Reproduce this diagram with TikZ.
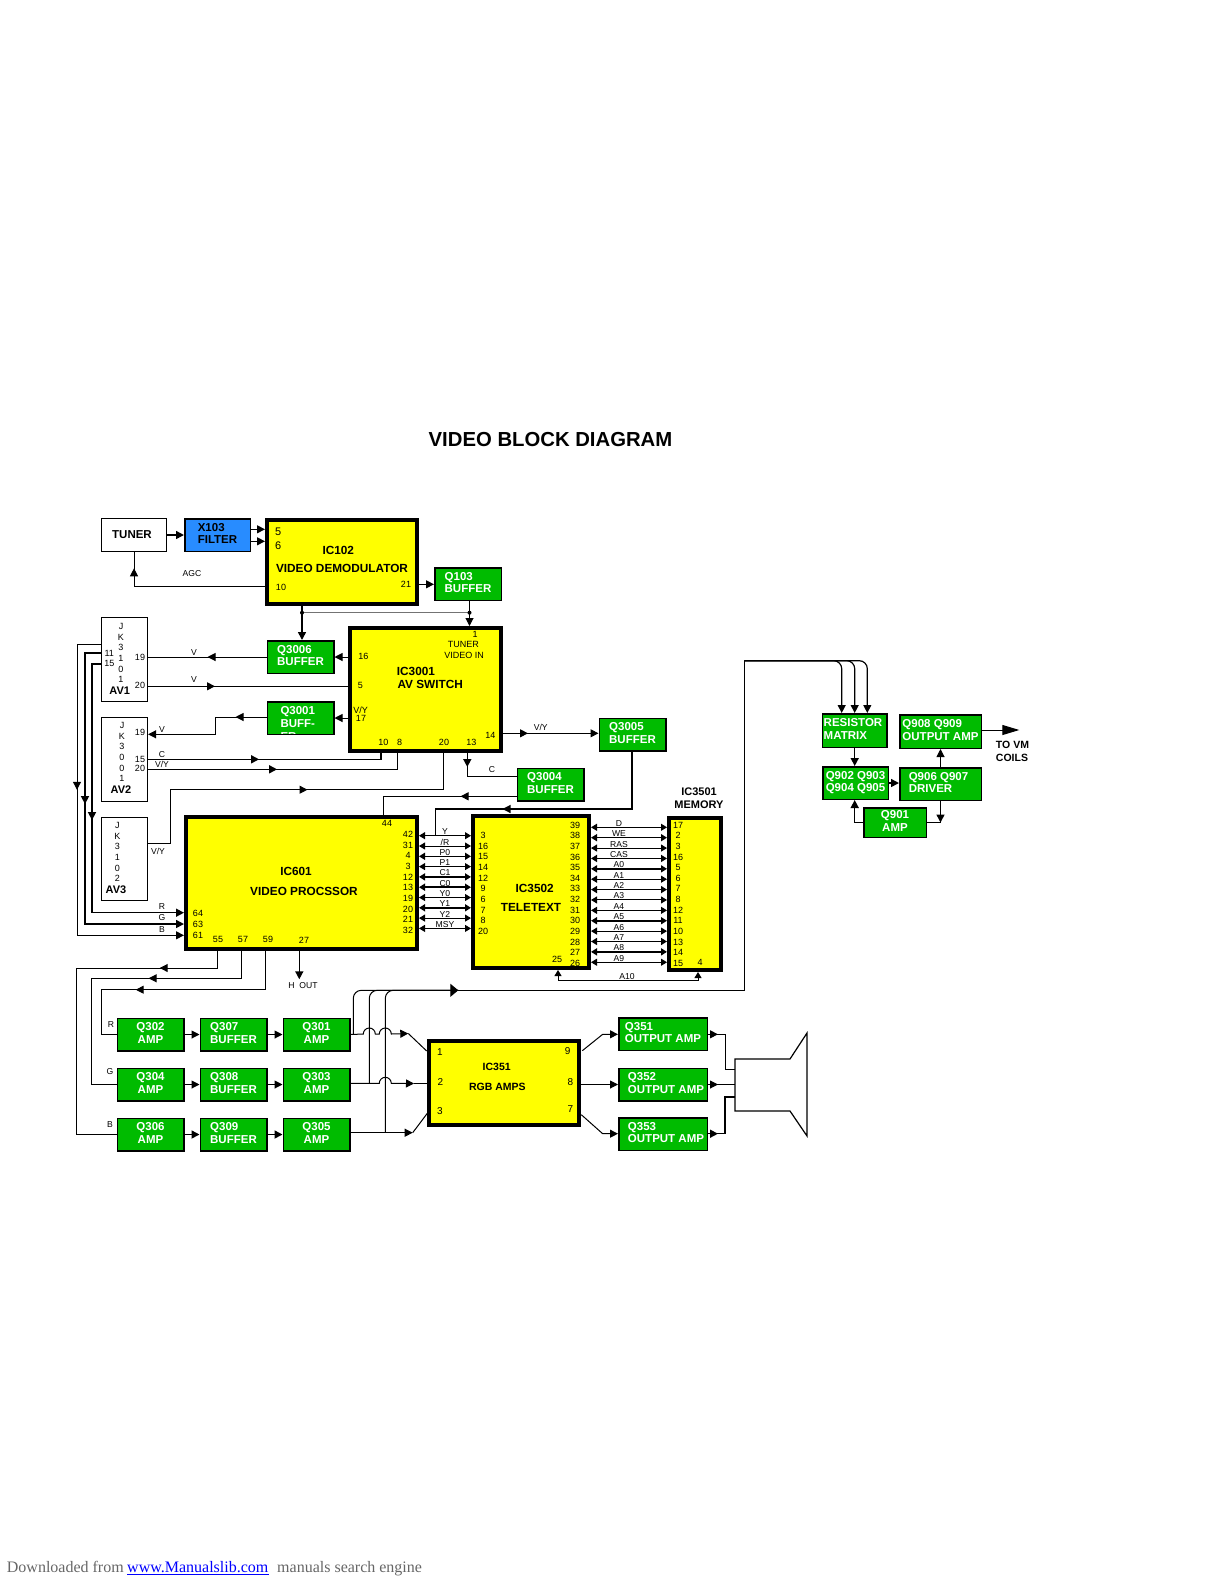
\documentclass[tikz,border=0pt]{standalone}
\usepackage{fontspec}
\setmainfont{Liberation Sans}
\newfontfamily\footfont{Liberation Serif}
\usetikzlibrary{arrows.meta,decorations.markings}
\definecolor{qgreen}{RGB}{0,187,0}
\definecolor{xblue}{RGB}{40,140,255}
\definecolor{icyellow}{RGB}{255,255,0}
\newcommand{\pinfont}{\fontsize{9}{10.6}\selectfont}
\newcommand{\sigfont}{\fontsize{8.6}{10}\selectfont}
\newcommand{\qfont}{\fontsize{11.5}{12.9}\selectfont\bfseries}
\tikzset{
    sig/.style={line width=1pt},
    bus/.style={line width=1.5pt},
    tip/.style={-{Triangle[length=8pt,width=8pt]}},
    dbl/.style={{Triangle[length=6pt,width=7pt]}-{Triangle[length=6pt,width=7pt]}},
    midtip/.style={postaction={decorate,decoration={markings,mark=at position #1 with {\arrow{Triangle[length=8pt,width=8pt]}}}}},
    pin/.style={inner sep=0pt,font=\pinfont},
    sname/.style={inner sep=0pt,font=\sigfont},
    icname/.style={inner sep=0pt,font=\fontsize{11.8}{13}\selectfont\bfseries},
    jk/.style={inner sep=0pt,align=center,font=\fontsize{9}{10.6}\selectfont},
    avname/.style={inner sep=0pt,font=\fontsize{11}{13}\selectfont\bfseries},
    size/.style 2 args={minimum width=#1,minimum height=#2},
    qbox/.style={draw,line width=1.5pt,fill=qgreen,text=white,inner sep=0pt,text depth=3pt,align=left,font=\qfont,size={66.5}{32.5}},
    icbox/.style={draw,line width=4pt,fill=icyellow,inner sep=0pt},
    jkbox/.style={draw,line width=1.2pt,fill=white,inner sep=0pt,size={46}{84}},
}
\begin{document}
\begin{tikzpicture}[x=1pt,y=-1pt]
    \useasboundingbox (0,0) rectangle (1225,1585);
    \node[font=\fontsize{20.3}{24}\selectfont\bfseries,inner sep=0pt] (title) at (550.5,439.5) {VIDEO BLOCK DIAGRAM};

    % top row
    \node[draw,line width=1.2pt,inner sep=0pt,font=\qfont,size={65}{33}] (tuner) at (134,535) {\kern-4pt\raisebox{-1pt}{TUNER}};
    \node[draw,line width=1.5pt,fill=xblue,inner sep=0pt,text depth=3pt,align=left,font=\qfont,size={65.5}{32.5}] (x103) at (217.5,535) {X103\\FILTER};
    \node[icbox,size={150}{84}] (ic102) at (342,562) {};
    \node[qbox] (q103) at (468,584) {Q103\\BUFFER};
    \node[pin,font=\fontsize{11}{13}\selectfont] (dm5) at (278.3,531.3) {5};
    \node[pin,font=\fontsize{11}{13}\selectfont] (dm6) at (278.3,545.7) {6};
    \node[icname] (dmname) at (338.3,550) {IC102};
    \node[icname] (dmtext) at (342,568) {VIDEO DEMODULATOR};
    \node[pin] (dm10) at (281,587) {10};
    \node[pin] (dm21) at (406,584.7) {21};

    % av switch row
    \node[jkbox] (av1) at (124.5,659.5) {};
    \node[jkbox] (av2) at (124.5,759.5) {};
    \node[jkbox,size={46}{83}] (av3) at (124.5,859) {};
    \node[jk] (jk1) at (121,653) {J\\K\\3\\1\\0\\1};
    \node[jk] (jk2) at (122,752) {J\\K\\3\\0\\0\\1};
    \node[jk] (jk3) at (117.3,852) {J\\K\\3\\1\\0\\2};
    \node[avname] (av1name) at (119.7,690.7) {AV1};
    \node[avname] (av2name) at (121,789.7) {AV2};
    \node[avname] (av3name) at (116,890) {AV3};
    \node[pin] (av1p11) at (109.3,653.3) {11};
    \node[pin] (av1p15) at (109.3,663.7) {15};
    \node[pin] (av1p19) at (140,657.3) {19};
    \node[pin] (av1p20) at (140,685) {20};
    \node[pin] (av2p19) at (140,732) {19};
    \node[pin] (av2p15) at (140,759.3) {15};
    \node[pin] (av2p20) at (140,768.7) {20};

    \node[qbox] (q3006) at (300.5,657) {Q3006\\BUFFER};
    \node[qbox,path picture={\node[inner sep=0pt,size={0}{0},text depth=0pt,text=white,align=left,font=\qfont,anchor=north west] (q3001text) at ([xshift=12.5pt,yshift=-3.8pt]path picture bounding box.north west) {Q3001\\BUFF-\\ER};}] (q3001) at (300.5,718) {};
    \node[icbox,size={151}{123}] (ic3001) at (425.5,689.5) {};
    \node[pin] (sw1) at (475,634.7) {1};
    \node[pin] (swtuner) at (463.3,644.3) {TUNER};
    \node[pin] (swvideo) at (464,655) {VIDEO IN};
    \node[pin] (sw16) at (363.3,656.3) {16};
    \node[pin] (sw5) at (360.3,685.7) {5};
    \node[pin] (swvy) at (360.7,710) {V/Y};
    \node[pin] (sw17) at (361,718) {17};
    \node[icname,anchor=west] (swname) at (396.7,671.3) {IC3001};
    \node[icname,anchor=west] (swtext) at (397.3,684.3) {AV SWITCH};
    \node[pin] (sw10) at (383.3,742.3) {10};
    \node[pin] (sw8) at (399.7,742.3) {8};
    \node[pin] (sw20) at (444,742.3) {20};
    \node[pin] (sw13) at (471.3,742.3) {13};
    \node[pin] (sw14) at (490.3,735) {14};
    \node[qbox] (q3005) at (632.5,734.5) {Q3005\\BUFFER};
    \node[qbox] (q3004) at (550.5,784.5) {Q3004\\BUFFER};

    % processor, teletext, memory
    \node[icbox,size={231}{132}] (ic601) at (301.5,883) {};
    \node[icbox,size={116}{152}] (ic3502) at (531,892) {};
    \node[icbox,size={52}{152}] (ic3501) at (695,894) {};
    \node[icname] (vpname) at (296,871) {IC601};
    \node[icname] (vptext) at (304,891) {VIDEO PROCSSOR};
    \node[icname] (ttname) at (534.7,888) {IC3502};
    \node[icname] (tttext) at (531,907) {TELETEXT};
    \node[icname,align=center,font=\fontsize{11}{13}\selectfont\bfseries] (memname) at (699,798) {IC3501\\MEMORY};
    \foreach \p [count=\i from 0] in {42,31,4,3,12,13,19,20,21,32}
    \node[pin] (vp\p) at (408,{834.3+10.67*\i}) {\p};
    \foreach \p [count=\i from 0] in {3,16,15,14,12,9,6,7,8,20}
    \node[pin] (ttl\i) at (483,{835.7+10.6*\i}) {\p};
    \foreach \p [count=\i from 0] in {39,38,37,36,35,34,33,32,31,30,29,28,27,26}
    \node[pin] (ttr\p) at (575,{825+10.64*\i}) {\p};
    \foreach \p [count=\i from 0] in {17,2,3,16,5,6,7,8,12,11,10,13,14,15}
    \node[pin] (mem\i) at (678,{825+10.64*\i}) {\p};
    \node[pin] (mem4) at (700,962) {4};
    \node[pin] (tt25) at (557,959) {25};
    \node[pin] (vp44) at (387,823) {44};
    \node[pin] (vp64) at (198,913.3) {64};
    \node[pin] (vp63) at (198,924.7) {63};
    \node[pin] (vp61) at (198,935.7) {61};
    \node[pin] (vp55) at (218,939) {55};
    \node[pin] (vp57) at (243,939) {57};
    \node[pin] (vp59) at (268,939) {59};
    \node[pin] (vp27) at (304,940.7) {27};

    % wires between the three chips
    \foreach \l/\w [count=\i from 0] in {Y/1,{/R}/1,P0/1.6,P1/1,C1/1.6,C0/1.6,Y0/1,Y1/1.6,Y2/1,MSY/1}{
        \coordinate (vw\i) at (445,{835.7+10.3*\i});
        \draw[line width=\w pt,dbl] (vw\i -| ic601.east) -- (vw\i -| ic3502.west);
        \node[sname,anchor=base] (vl\i) at (445,{834.7+10.3*\i}) {\l};
    }
    \foreach \l/\w [count=\i from 0] in {D/1,WE/1.6,RAS/1,CAS/1.6,A0/1.6,A1/1,A2/1.6,A3/1,A4/1,A5/1.6,A6/1,A7/1.6,A8/1.6,A9/1}{
        \coordinate (mw\i) at (619,{827.3+10.38*\i});
        \draw[line width=\w pt,dbl] (mw\i -| ic3502.east) -- (mw\i -| ic3501.west);
        \node[sname,anchor=base] (ml\i) at (619,{826.3+10.38*\i}) {\l};
    }
    \coordinate (a10l) at (558,980.7);
    \coordinate (a10r) at (698,980.7);
    \draw[sig,{Triangle[length=6pt,width=7pt]}-{Triangle[length=6pt,width=7pt]}] (a10l |- ic3502.south) -- (a10l) -- (a10r) -- (a10r |- ic3501.south);
    \node[sname] (a10) at (627,976.5) {A10};

    % top connectors
    \draw[bus,tip] (tuner.east) -- (x103.west);
    \coordinate (in5) at (258,529.3);
    \coordinate (in6) at (258,541.3);
    \draw[sig,tip] (in5 -| x103.east) -- (in5 -| ic102.west);
    \draw[sig,tip] (in6 -| x103.east) -- (in6 -| ic102.west);
    \coordinate (agc) at (134,586.3);
    \draw[sig,midtip=149pt] (agc -| ic102.west) -- (agc) -- (tuner.south);
    \node[sname] (agcname) at (192,574) {AGC};
    \coordinate (out21) at (426,584.3);
    \draw[sig,tip] (out21 -| ic102.east) -- (out21 -| q103.west);
    \coordinate (busl) at (302,612.7);
    \coordinate (busr) at (469.5,612.7);
    \draw[line width=1.4pt,black!55] (busl) -- (busr);
    \draw[bus,tip] (busl |- ic102.south) -- (busl |- q3006.north);
    \draw[sig,tip] (busr |- q103.south) -- (busr |- ic3001.north);
    \fill (busl) circle[radius=2];
    \fill (busr) circle[radius=2];

    % av jacks and switch
    \draw[sig,tip] (ic3001.west |- q3006.east) -- (q3006.east);
    \draw[sig,midtip=59pt] (q3006.west) -- (q3006.west -| av1.east);
    \node[sname] (v19) at (194,652.7) {V};
    \coordinate (av120) at (148,686.3);
    \draw[sig,midtip=67pt] (av120) -- (av120 -| ic3001.west);
    \node[sname] (v20) at (194,680) {V};
    \draw[sig,tip] (ic3001.west |- q3001.east) -- (q3001.east);
    \coordinate (v2a) at (215.7,717);
    \coordinate (v2b) at (215.7,734.3);
    \draw[sig,tip,midtip=31pt] (v2a -| q3001.west) -- (v2a) -- (v2b) -- (v2b -| av2.east);
    \node[sname] (v219) at (162,729.7) {V};
    \coordinate (c2a) at (381,759.3);
    \draw[bus,midtip=111pt] (c2a -| av2.east) -- (c2a) -- (c2a |- ic3001.south);
    \node[sname] (c15) at (162,754.3) {C};
    \coordinate (y2a) at (397.3,769.3);
    \draw[bus,midtip=129pt] (y2a -| av2.east) -- (y2a) -- (y2a |- ic3001.south);
    \node[sname] (vy20) at (162,764) {V/Y};
    \coordinate (y3a) at (170.3,843.3);
    \coordinate (y3b) at (170.3,789.7);
    \coordinate (y3c) at (443.3,789.7);
    \draw[sig,midtip=213pt] (y3a -| av3.east) -- (y3a) -- (y3b) -- (y3c) -- (y3c |- ic3001.south);
    \node[sname] (vy3) at (158,851) {V/Y};
    \coordinate (c13) at (467.3,776.7);
    \draw[bus,midtip=14pt] (c13 |- ic3001.south) -- (c13) -- (c13 -| q3004.west);
    \node[sname] (c13name) at (492,770) {C};
    \coordinate (y44) at (383.7,796.3);
    \draw[sig,midtip=56pt] (y44 -| q3004.west) -- (y44) -- (y44 |- ic601.north);
    \coordinate (o14) at (551,733.3);
    \draw[sig,tip,midtip=25pt] (o14 -| ic3001.east) -- (o14 -| q3005.west);
    \node[sname] (vy14) at (540.7,727.7) {V/Y};
    \coordinate (t5a) at (632,809);
    \coordinate (t5b) at (435.3,809);
    \draw[line width=1.2pt,midtip=187pt] (t5a |- q3005.south) -- (t5a) -- (t5b) -- (t5b |- vw0);

    % rgb in
    \coordinate (bup) at (77,644.7);
    \coordinate (bdn) at (77,935.3);
    \coordinate (gup) at (85,653);
    \coordinate (gdn) at (85,924);
    \coordinate (rup) at (92,664);
    \coordinate (rdn) at (92,912.7);
    \draw[sig,tip,midtip=169pt] (bup -| av1.west) -- (bup) -- (bdn) -- (bdn -| ic601.west);
    \draw[bus,tip,midtip=167pt] (gup -| av1.west) -- (gup) -- (gdn) -- (gdn -| ic601.west);
    \draw[bus,tip,midtip=165pt] (rup -| av1.west) -- (rup) -- (rdn) -- (rdn -| ic601.west);
    \node[sname] (rname) at (162,907) {R};
    \node[sname] (gname) at (162,918) {G};
    \node[sname] (bname) at (162,930) {B};

    % rgb amp rows
    \foreach \a/\b/\c/\ra/\rb/\rc/\y/\w in {
        302/307/301/Q302/Q307/Q301/1034.5/1,
        304/308/303/Q304/Q308/Q303/1084.5/1,
        306/309/305/Q306/Q309/Q305/1134.5/1.6}{
        \node[qbox,align=center] (q\a) at (150.5,\y) {\ra\\AMP};
        \node[qbox] (q\b) at (233.5,\y) {\rb\\BUFFER};
        \node[qbox,align=center] (q\c) at (316.5,\y) {\rc\\AMP};
        \draw[line width=\w pt,tip] (q\a.east) -- (q\b.west);
        \draw[line width=\w pt,tip] (q\b.east) -- (q\c.west);
    }
    \node[sname] (r302) at (111,1024.3) {R};
    \node[sname] (g304) at (110,1071.7) {G};
    \node[sname] (b306) at (110,1124.3) {B};
    \coordinate (p55a) at (217.7,968);
    \coordinate (p55b) at (76.7,968);
    \draw[sig,midtip=75pt] (p55a |- ic601.south) -- (p55a) -- (p55b) -- (p55b |- q306.west) -- (q306.west);
    \coordinate (p57a) at (241.3,978.3);
    \coordinate (p57b) at (91.7,978.3);
    \draw[sig,midtip=120pt] (p57a |- ic601.south) -- (p57a) -- (p57b) -- (p57b |- q304.west) -- (q304.west);
    \coordinate (p59a) at (265,989.7);
    \coordinate (p59b) at (101.7,989.7);
    \draw[sig,midtip=168pt] (p59a |- ic601.south) -- (p59a) -- (p59b) -- (p59b |- q302.west) -- (q302.west);
    \coordinate (hout) at (299.3,979.3);
    \draw[bus,tip] (hout |- ic601.south) -- (hout);
    \node[sname] (houtname) at (303,986) {H\ \ OUT};

    % rgb amps and outputs
    \node[icbox,size={150}{84}] (ic351) at (504,1083) {};
    \node[pin,font=\fontsize{10}{12}\selectfont] (rgb1) at (440,1052) {1};
    \node[pin,font=\fontsize{10}{12}\selectfont] (rgb2) at (440.3,1081.7) {2};
    \node[pin,font=\fontsize{10}{12}\selectfont] (rgb3) at (440,1111.3) {3};
    \node[pin,font=\fontsize{10}{12}\selectfont] (rgb9) at (567.7,1051.3) {9};
    \node[pin,font=\fontsize{10}{12}\selectfont] (rgb8) at (570.3,1082.3) {8};
    \node[pin,font=\fontsize{10}{12}\selectfont] (rgb7) at (570.3,1109) {7};
    \node[icname,font=\fontsize{10.5}{12}\selectfont\bfseries] (rgbname) at (496.7,1067.3) {IC351};
    \node[icname,font=\fontsize{10.5}{12}\selectfont\bfseries] (rgbtext) at (497.3,1087) {RGB AMPS};
    \node[qbox,size={88.5}{32.5}] (q351) at (663,1034) {Q351\\OUTPUT AMP};
    \node[qbox,size={88.5}{32.5}] (q352) at (663,1084.5) {\hspace*{6pt}Q352\\\hspace*{6pt}OUTPUT AMP};
    \node[qbox,size={88.5}{32.5}] (q353) at (663,1134) {\hspace*{6pt}Q353\\\hspace*{6pt}OUTPUT AMP};

    \coordinate (tapr) at (353.3,1034);
    \coordinate (tapg) at (369.3,1083.3);
    \coordinate (tapb) at (385.3,1132.7);
    \coordinate (in1a) at (408.3,1033.5);
    \coordinate (in1b) at (426.7,1051);
    \coordinate (in2a) at (414,1083.5);
    \coordinate (in3a) at (412.7,1132.7);
    \coordinate (in3b) at (427.3,1113.3);
    \draw[sig,tip] (q301.east) -- (363.3,1034) arc[start angle=180,end angle=360,radius=6] -- (379.3,1034) arc[start angle=180,end angle=360,radius=6] -- (in1a);
    \draw[sig] (in1a) -- (in1b);
    \draw[sig,tip] (q303.east |- tapg) -- (379.3,1083.3) arc[start angle=180,end angle=360,radius=6] -- (in2a);
    \draw[sig] (in2a) -- (in2a -| ic351.west);
    \draw[sig,tip] (q305.east |- tapb) -- (in3a);
    \draw[sig] (in3a) -- (in3b);

    \coordinate (trunk) at (744.3,990.3);
    \coordinate (top) at (744.3,660.7);
    \coordinate (tiptr) at (458.3,990.3);
    \draw[sig,rounded corners=8] (tapg) -- (tapg |- trunk) -- (tiptr);
    \draw[sig,rounded corners=8] (tapb) -- (tapb |- trunk) -- (tiptr);
    \draw[sig,rounded corners=8,-{Triangle[length=8pt,width=13pt]}] (tapr) -- (tapr |- trunk) -- (tiptr);
    \draw[sig] (tiptr) -- (trunk) -- (top);

    \coordinate (out9a) at (602.7,1034.3);
    \coordinate (out7a) at (602.7,1133.7);
    \coordinate (out9s) at (582.3,1050.7);
    \coordinate (out7s) at (581.3,1114.7);
    \draw[sig,tip] (out9s) -- (out9a) -- (out9a -| q351.west);
    \draw[sig,tip] (ic351.east |- q352.west) -- (q352.west);
    \draw[sig,tip] (out7s) -- (out7a) -- (out7a -| q353.west);

    % speaker
    \coordinate (spka) at (735,1059);
    \coordinate (spkb) at (735,1111);
    \draw[line width=1.2pt] (spka) -- (790,1059) -- (807,1033) -- (807,1136) -- (790,1111) -- (spkb) -- cycle;
    \coordinate (sp1) at (725,1034.3);
    \coordinate (sp1b) at (725,1069);
    \coordinate (sp3) at (725,1133.7);
    \coordinate (sp3b) at (725,1097);
    \draw[sig,midtip=10pt] (q351.east |- sp1) -- (sp1) -- (sp1b) -- (sp1b -| spka);
    \draw[sig,midtip=10pt] (q352.east) -- (q352.east -| spka);
    \draw[bus,midtip=10pt] (q353.east |- sp3) -- (sp3) -- (sp3b) -- (sp3b -| spka);

    % deflection blocks
    \node[qbox,size={64.5}{33.5}] (matrix) at (854.5,730.5) {\kern-3pt RESISTOR\\\kern-3pt MATRIX};
    \node[qbox,size={81.5}{33.5}] (q908) at (940.5,731.5) {Q908 Q909\\OUTPUT AMP};
    \node[qbox,size={65.5}{32.5}] (q902) at (855.5,783) {Q902 Q903\\Q904 Q905};
    \node[qbox,size={81.5}{32.5}] (q906) at (940.5,784) {\kern-4pt Q906 Q907\\\kern-4pt DRIVER};
    \node[qbox,align=center,size={62.5}{29.5}] (q901) at (895,822.5) {Q901\\AMP};
    \coordinate (mxa) at (841.7,660.7);
    \coordinate (mxb) at (854.7,660.7);
    \coordinate (mxc) at (867.3,660.7);
    \draw[line width=1.2pt,tip,rounded corners=8] (top) -- (mxa) -- (mxa |- matrix.north);
    \draw[line width=1.2pt,tip,rounded corners=8] (top) -- (mxb) -- (mxb |- matrix.north);
    \draw[line width=1.2pt,tip,rounded corners=8] (top) -- (mxc) -- (mxc |- matrix.north);
    \draw[bus,tip] (mxb |- matrix.south) -- (mxb |- q902.north);
    \draw[bus,tip] (q902.east) -- (q906.west |- q902.east);
    \draw[sig,tip] (q906.north) -- (q908.south);
    \coordinate (vmout) at (1019.3,730);
    \draw[sig,-{Triangle[length=17pt,width=10pt]}] (vmout -| q908.east) -- (vmout);
    \node[inner sep=0pt,align=left,font=\fontsize{10.5}{12.8}\selectfont\bfseries] (tovm) at (1012.5,751.7) {TO VM\\COILS};
    \coordinate (drv) at (940.5,822.5);
    \draw[bus,tip] (q906.south) -- (drv);
    \draw[bus] (q901.east) -- (drv);
    \coordinate (amp) at (854.7,822.5);
    \draw[bus,tip] (q901.west) -- (amp) -- (amp |- q902.south);

    % footer
    \node[anchor=base west,inner sep=0pt,text=black!60,font=\footfont\fontsize{16}{18}\selectfont] (dlfrom) at (6.7,1572) {Downloaded from};
    \node[anchor=base west,inner sep=0pt,text=blue,font=\footfont\fontsize{16}{18}\selectfont] (dllink) at (127,1572) {www.Manualslib.com};
    \draw[blue,line width=0.8pt] (dllink.base west) ++(0,2.7) -- ++(142,0);
    \node[anchor=base west,inner sep=0pt,text=black!60,font=\footfont\fontsize{16}{18}\selectfont] (dlrest) at (277,1572) {manuals search engine};
\end{tikzpicture}
\end{document}
